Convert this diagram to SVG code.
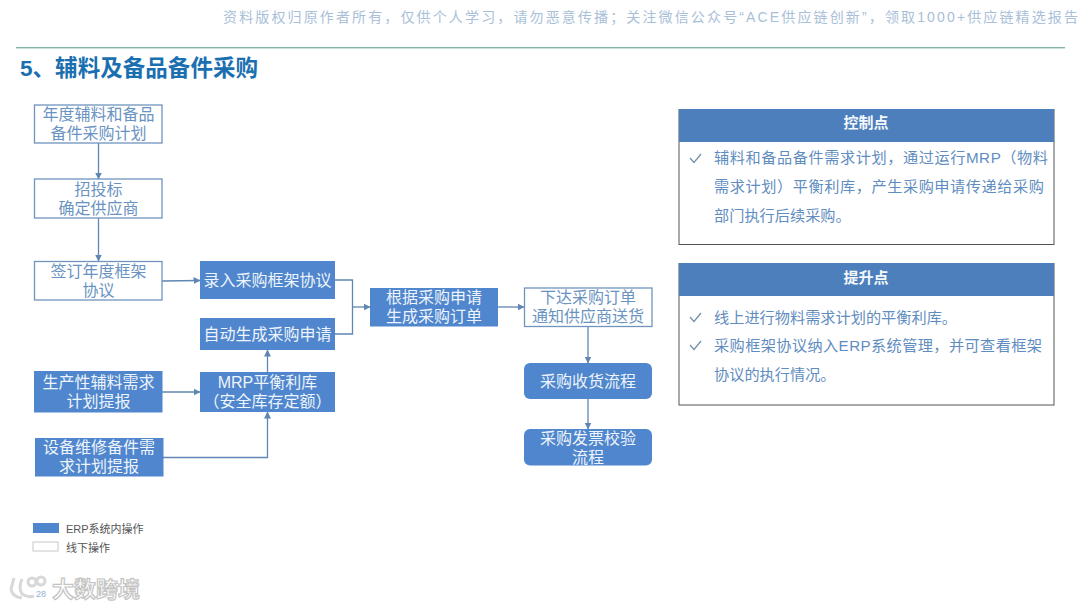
<svg xmlns="http://www.w3.org/2000/svg" width="1080" height="608" viewBox="0 0 1080 608">
<style>
text{font-family:"Liberation Sans","Noto Sans CJK SC",sans-serif}
.n{font-size:16px;text-anchor:middle}
.off rect{fill:#fff;stroke:#6f94bd;stroke-width:1.3}
.off text{fill:#6b93c2}
.on rect{fill:#4f86cd}
.on text{fill:#eef4fb}
.c{fill:none;stroke:#5f86b4;stroke-width:1.3}
.b{font-size:15.2px;fill:#5f8dbf}
.h{font-size:15px;font-weight:700;fill:#f4f7fb;text-anchor:middle}
.k{fill:none;stroke:#6f8fa8;stroke-width:1.2}
.hd{fill:#4c7fbc}
.box{fill:#fff;stroke:#555;stroke-width:1}
</style>
<defs><marker id="a" markerWidth="8" markerHeight="8" refX="6.5" refY="3.5" orient="auto" markerUnits="userSpaceOnUse"><path d="M0 0L7 3.5L0 7Z" fill="#5f86b4"/></marker></defs>
<rect width="1080" height="608" fill="#fff"/>
<text x="223" y="22" font-size="14" fill="#a9c0d8" textLength="855">资料版权归原作者所有，仅供个人学习，请勿恶意传播；关注微信公众号“ACE供应链创新”，领取1000+供应链精选报告</text>
<rect x="16" y="47" width="1049" height="1.4" fill="#83b5a6"/>
<text x="20" y="76" font-size="22.500" font-weight="700" fill="#1a6fb0" textLength="238">5、辅料及备品备件采购</text>
<g id="connectors">
<path class="c" marker-end="url(#a)" d="M98.500 143V179"/>
<path class="c" marker-end="url(#a)" d="M98.500 218V261"/>
<path class="c" marker-end="url(#a)" d="M162 281L200 280.500"/>
<path class="c" marker-end="url(#a)" d="M162 392H200"/>
<path class="c" marker-end="url(#a)" d="M163 457.500H267.500V412"/>
<path class="c" marker-end="url(#a)" d="M267.500 372V350"/>
<path class="c" d="M335 280H352.500V334H335"/>
<path class="c" marker-end="url(#a)" d="M352.500 307H370"/>
<path class="c" marker-end="url(#a)" d="M498 307H524"/>
<path class="c" marker-end="url(#a)" d="M588 327V363"/>
<path class="c" marker-end="url(#a)" d="M588 399V429"/>
</g>
<g id="n1" class="off"><rect x="34.500" y="105" width="127.500" height="38"/><text class="n"><tspan x="98.500" y="120">年度辅料和备品</tspan><tspan x="98.500" y="139">备件采购计划</tspan></text></g>
<g id="n2" class="off"><rect x="34.500" y="179" width="127.500" height="39"/><text class="n"><tspan x="98.500" y="195">招投标</tspan><tspan x="98.500" y="214">确定供应商</tspan></text></g>
<g id="n3" class="off"><rect x="34.500" y="261.500" width="127.500" height="38.500"/><text class="n"><tspan x="98.500" y="277">签订年度框架</tspan><tspan x="98.500" y="296">协议</tspan></text></g>
<g id="n4" class="on"><rect x="200" y="261" width="135" height="38"/><text class="n" x="267.500" y="286">录入采购框架协议</text></g>
<g id="n5" class="on"><rect x="200" y="318" width="135" height="32"/><text class="n" x="267.500" y="340">自动生成采购申请</text></g>
<g id="n6" class="on"><rect x="200" y="372" width="135" height="40"/><text class="n"><tspan x="267.500" y="388">MRP平衡利库</tspan><tspan x="267.500" y="407">（安全库存定额）</tspan></text></g>
<g id="n7" class="on"><rect x="34" y="371" width="128.500" height="41.500"/><text class="n"><tspan x="98.500" y="388">生产性辅料需求</tspan><tspan x="98.500" y="407">计划提报</tspan></text></g>
<g id="n8" class="on"><rect x="35" y="438" width="128.500" height="38.500"/><text class="n"><tspan x="99" y="453">设备维修备件需</tspan><tspan x="99" y="472">求计划提报</tspan></text></g>
<g id="n9" class="on"><rect x="370" y="288" width="128" height="38.500"/><text class="n"><tspan x="434" y="303">根据采购申请</tspan><tspan x="434" y="322">生成采购订单</tspan></text></g>
<g id="n10" class="off"><rect x="524.500" y="288" width="127.500" height="38.500"/><text class="n"><tspan x="588" y="303">下达采购订单</tspan><tspan x="588" y="322">通知供应商送货</tspan></text></g>
<g id="n11" class="on"><rect x="524" y="363" width="128" height="36" rx="6"/><text class="n" x="588" y="387">采购收货流程</text></g>
<g id="n12" class="on"><rect x="524" y="429" width="128" height="36.500" rx="6"/><text class="n"><tspan x="588" y="444">采购发票校验</tspan><tspan x="588" y="463">流程</tspan></text></g>
<g id="control">
<rect class="box" x="679" y="109.500" width="375" height="135"/><rect class="hd" x="679" y="109" width="375" height="33"/>
<text class="h" x="866" y="128">控制点</text>
<path class="k" d="M690 158L694 162.500L701 154"/>
<text class="b" x="714" y="163" textLength="334">辅料和备品备件需求计划，通过运行MRP（物料</text>
<text class="b" x="714" y="192" textLength="330">需求计划）平衡利库，产生采购申请传递给采购</text>
<text class="b" x="714" y="221">部门执行后续采购。</text>
</g>
<g id="improve">
<rect class="box" x="679" y="263.500" width="375" height="141.500"/><rect class="hd" x="679" y="263" width="375" height="33"/>
<text class="h" x="866" y="283">提升点</text>
<path class="k" d="M690 317L694 321.500L701 313"/>
<text class="b" x="714" y="323">线上进行物料需求计划的平衡利库。</text>
<path class="k" d="M690 345L694 349.500L701 341"/>
<text class="b" x="714" y="351" textLength="328">采购框架协议纳入ERP系统管理，并可查看框架</text>
<text class="b" x="714" y="380">协议的执行情况。</text>
</g>
<g id="legend">
<rect x="33" y="523" width="26" height="10" fill="#4f86cd"/>
<text x="66" y="533" font-size="11" fill="#555">ERP系统内操作</text>
<rect x="33" y="542" width="25" height="9" fill="#fff" stroke="#c4c8cc"/>
<text x="66" y="552" font-size="11" fill="#555">线下操作</text>
</g>
<g id="watermark">
<path d="M14 578L11 589Q12 597 22 598M22 579Q18 588 22 594Q28 598 34 596M28 582a4 4 0 1 0 8 0a4 4 0 1 0 -8 0M37 581a4 4 0 1 0 8 0a4 4 0 1 0 -8 0" fill="none" stroke="#d8d8d8" stroke-width="3"/>
<text x="36" y="597" font-size="9" fill="#8fb0d4">28</text>
<text x="52" y="597" font-size="22" font-weight="700" fill="#fff" stroke="#c4c4c4" stroke-width="1.2">大数跨境</text>
</g>
</svg>
